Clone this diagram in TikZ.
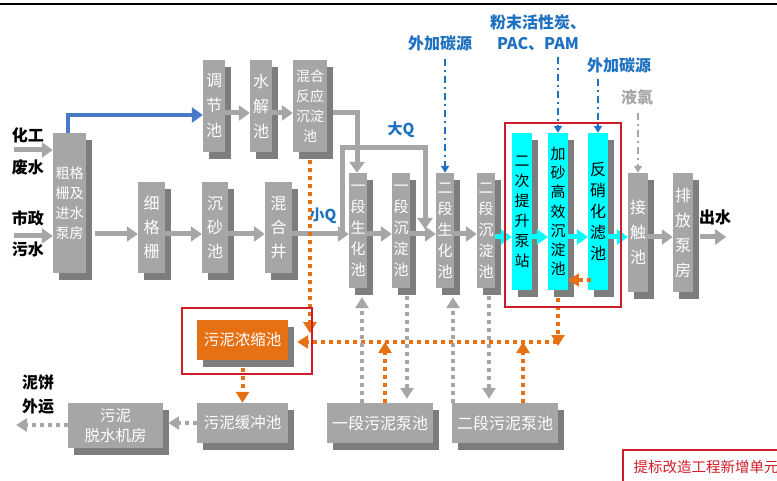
\documentclass[tikz,border=0pt]{standalone}
\usepackage{fontspec}
\setmainfont{Noto Sans CJK SC}
\usetikzlibrary{arrows.meta,shadows,calc}
\definecolor{boxgray}{RGB}{166,166,166}
\definecolor{shadegray}{RGB}{125,125,125}
\definecolor{newcyan}{RGB}{0,255,255}
\definecolor{sludge}{RGB}{230,112,20}
\definecolor{mark}{RGB}{208,28,40}
\definecolor{dosing}{RGB}{30,112,192}
\definecolor{flowblue}{RGB}{72,122,200}
\tikzset{
  unit/.style={fill=boxgray, text=white, inner sep=0pt, align=center,
    copy shadow={shadow xshift=6pt, shadow yshift=-7pt, fill=shadegray, draw=none},
    font=\fontsize{15}{21}\selectfont},
  newunit/.style={unit, fill=newcyan, text=black},
  lbl/.style={font=\fontsize{16}{21}\selectfont\bfseries, align=center, inner sep=0pt},
  dosetext/.style={lbl, text=dosing},
  flow/.style={draw=boxgray, line width=5pt, -{Triangle[length=11pt,width=15pt]}},
  cyanflow/.style={flow, draw=newcyan},
  bluepipe/.style={draw=flowblue, line width=4pt, -{Triangle[length=11pt,width=15pt]}},
  dose/.style={draw=dosing, line width=1.8pt, dash pattern=on 7pt off 4pt on 2pt off 4pt,
    -{Triangle[length=7pt,width=8pt]}},
  sludgeline/.style={draw=sludge, line width=4pt, dash pattern=on 4pt off 4pt,
    -{Triangle[length=11pt,width=13pt]}},
  returnline/.style={draw=boxgray, line width=3.5pt, dash pattern=on 4pt off 4pt,
    -{Triangle[length=11pt,width=13pt]}},
  markbox/.style={draw=mark, line width=2pt}
}
\begin{document}
\begin{tikzpicture}[x=1pt,y=-1pt]
\useasboundingbox (0,0) rectangle (777,481);
\draw[line width=2.5pt] (0,4) -- (777,4);
\coordinate (row) at (0,234);
\coordinate (row2) at (0,237);

% pretreatment
\node[unit, minimum width=33pt, minimum height=140pt, font=\fontsize{14}{20}\selectfont] (cg) at (69.5,203) {粗格\\栅及\\进水\\泵房};
\node[unit, minimum width=27pt, minimum height=91pt, font=\fontsize{16}{24}\selectfont] (xgs) at (151.5,227.5) {细\\格\\栅};
\node[unit, minimum width=26pt, minimum height=91pt, font=\fontsize{16}{24}\selectfont] (csc) at (215,227.5) {沉\\砂\\池};
\node[unit, minimum width=27pt, minimum height=91pt, font=\fontsize{16}{24}\selectfont] (hhj) at (278.5,227.5) {混\\合\\井};
\node[unit, minimum width=22pt, minimum height=92pt, font=\fontsize{16}{25}\selectfont] (tjc) at (214,106) {调\\节\\池};
\node[unit, minimum width=22pt, minimum height=92pt, font=\fontsize{16}{25}\selectfont] (sjc) at (261,106) {水\\解\\池};
\node[unit, minimum width=34pt, minimum height=92pt, font=\fontsize{14}{20}\selectfont] (hhfy) at (310,106) {混合\\反应\\沉淀\\池};

% biology
\node[unit, minimum width=18pt, minimum height=115pt] (ys1) at (358,230.5) {一\\段\\生\\化\\池};
\node[unit, minimum width=18pt, minimum height=115pt] (cd1) at (401,230.5) {一\\段\\沉\\淀\\池};
\node[unit, minimum width=18pt, minimum height=115pt] (ys2) at (445,230.5) {二\\段\\生\\化\\池};
\node[unit, minimum width=18pt, minimum height=115pt] (cd2) at (486,230.5) {二\\段\\沉\\淀\\池};

% new units
\node[newunit, minimum width=20pt, minimum height=157pt, font=\fontsize{15}{20}\selectfont] (tsb) at (522,211.5) {二\\次\\提\\升\\泵\\站};
\node[newunit, minimum width=20pt, minimum height=157pt, font=\fontsize{15}{19.2}\selectfont] (jsc) at (558,211.5) {加\\砂\\高\\效\\沉\\淀\\池};
\node[newunit, minimum width=20pt, minimum height=157pt, font=\fontsize{16}{21}\selectfont] (fxh) at (598,211.5) {反\\硝\\化\\滤\\池};
\node[unit, minimum width=20pt, minimum height=119pt, font=\fontsize{16}{25}\selectfont] (jcc) at (638,232.5) {接\\触\\池};
\node[unit, minimum width=20pt, minimum height=119pt, font=\fontsize{16}{25}\selectfont] (pfb) at (683,232.5) {排\\放\\泵\\房};

% sludge
\node[unit, fill=sludge, minimum width=91pt, minimum height=40pt, font=\fontsize{15.5}{20}\selectfont] (wnns) at (242.5,340) {污泥浓缩池};
\node[unit, minimum width=91pt, minimum height=40pt, font=\fontsize{15.5}{20}\selectfont] (wnhc) at (242.5,423) {污泥缓冲池};
\node[unit, minimum width=95pt, minimum height=45pt, font=\fontsize{15.5}{20}\selectfont] (tsjf) at (115.5,425.5) {污泥\\脱水机房};
\node[unit, minimum width=106pt, minimum height=40pt, font=\fontsize{16}{20}\selectfont] (bc1) at (380,423) {一段污泥泵池};
\node[unit, minimum width=106pt, minimum height=40pt, font=\fontsize{16}{20}\selectfont] (bc2) at (505,423) {二段污泥泵池};

% labels
\node[lbl] (chem1) at (28,135) {化工};
\node[lbl] (chem2) at (28,167) {废水};
\node[lbl] (mun1) at (28,218) {市政};
\node[lbl] (mun2) at (28,249) {污水};
\node[lbl] (out) at (715,217) {出水};
\node[lbl] (cake1) at (38,382) {泥饼};
\node[lbl] (cake2) at (38,407) {外运};
\node[dosetext] (carbon1) at (440,43) {外加碳源};
\node[dosetext] (pac) at (538,33) {粉末活性炭、\\PAC、PAM};
\node[dosetext] (carbon2) at (619,65) {外加碳源};
\node[lbl, text=boxgray] (cl) at (637,97) {液氯};
\node[lbl, text=dosing, font=\fontsize{15}{20}\selectfont\bfseries] (bigq) at (401,130) {大Q};
\node[lbl, text=dosing, font=\fontsize{15}{20}\selectfont\bfseries] (smallq) at (323,216) {小Q};

\coordinate (chemin) at (14,150);
\coordinate (munin) at (14,236);
\coordinate (bigQa) at (342,234);
\coordinate (bigQb) at (425,229);
\coordinate (sl) at (557,342);
\coordinate (backwash) at (591,280);
\coordinate (cakeout) at (16,425);

% water line
\draw[flow] (chemin) -- (cg.west |- chemin);
\draw[flow] (munin) -- (cg.west |- munin);
\draw[bluepipe] ([xshift=-1.5pt]cg.north) |- ([yshift=-9pt]tjc.west);
\draw[flow] ([xshift=9pt]cg.east |- row) -- (xgs.west |- row);
\draw[flow] (xgs.east |- row) -- (csc.west |- row);
\draw[flow] (csc.east |- row) -- (hhj.west |- row);
\draw[flow] (hhj.east |- row) -- (ys1.west |- row);
\draw[flow] (ys1.east |- row) -- (cd1.west |- row);
\draw[flow] (cd1.east |- row) -- (ys2.west |- row);
\draw[flow] (ys2.east |- row) -- (cd2.west |- row);
\draw[flow] ([yshift=-7pt]tjc.east) -- ([yshift=-7pt]sjc.west);
\draw[flow] ([yshift=-7pt]sjc.east) -- ([yshift=-7pt]hhfy.west);
\draw[flow] ([xshift=6pt,yshift=-7pt]hhfy.east) -| ([xshift=-1pt]ys1.north);
\draw[flow] (bigQa) -- ++(0,-86) -| (bigQb);
\draw[cyanflow] (cd2.east |- row2) -- (tsb.west |- row2);
\draw[cyanflow] (tsb.east |- row2) -- (jsc.west |- row2);
\draw[cyanflow] (jsc.east |- row2) -- (fxh.west |- row2);
\draw[cyanflow] (fxh.east |- row2) -- (jcc.west |- row2);
\draw[flow] (jcc.east |- row2) -- (pfb.west |- row2);
\draw[flow] ([xshift=7pt]pfb.east |- row2) -- ([xshift=-5pt]out.east |- row2);

% dosing
\draw[dose] ([yshift=-8pt]carbon1.south -| ys2.north) -- (ys2.north);
\draw[dose] ([yshift=-6pt]pac.south -| jsc.north) -- (jsc.north);
\draw[dose] ([yshift=-6pt]carbon2.south -| fxh.north) -- (fxh.north);
\draw[dose, draw=boxgray] ([yshift=-8pt]cl.south -| jcc.north) -- (jcc.north);

% sludge lines
\draw[sludgeline] (sl) -- ([xshift=9pt]wnns.east |- sl);
\draw[sludgeline] ([yshift=-8pt]hhfy.south) -- ++(0,173);
\draw[sludgeline] ([yshift=-8pt]jsc.south) -- ([yshift=-4pt]jsc.south |- sl);
\draw[sludgeline] (backwash) -- (jsc.east |- backwash);
\draw[sludgeline] ([xshift=5pt]bc1.north) -- ([xshift=5pt]bc1.north |- sl);
\draw[sludgeline] ([xshift=18pt]bc2.north) -- ([xshift=18pt]bc2.north |- sl);
\draw[returnline] ([xshift=4pt]ys1.south |- bc1.north) -- ([xshift=4pt,yshift=-9pt]ys1.south);
\draw[returnline] ([xshift=6pt,yshift=-8pt]cd1.south) -- ([xshift=6pt,yshift=4pt]cd1.south |- bc1.north);
\draw[returnline] ([xshift=8pt]ys2.south |- bc2.north) -- ([xshift=8pt,yshift=-9pt]ys2.south);
\draw[returnline] ([xshift=3pt,yshift=-8pt]cd2.south) -- ([xshift=3pt,yshift=4pt]cd2.south |- bc2.north);
\draw[sludgeline] ([yshift=-8pt]wnns.south) -- (wnns.south |- wnhc.north);
\draw[returnline] (wnhc.west) -- ([xshift=5pt]tsjf.east |- wnhc.west);
\draw[returnline] (tsjf.west |- cakeout) -- (cakeout);

% new units frame
\draw[markbox] (505,123) rectangle (621,307);
\draw[markbox] (182,308) rectangle (312,374);
\draw[markbox] (623,450) rectangle (780,484);
\node[text=mark, font=\fontsize{14.5}{18}\selectfont, inner sep=0pt] (legend) at (706,467) {提标改造工程新增单元};
\end{tikzpicture}
\end{document}
